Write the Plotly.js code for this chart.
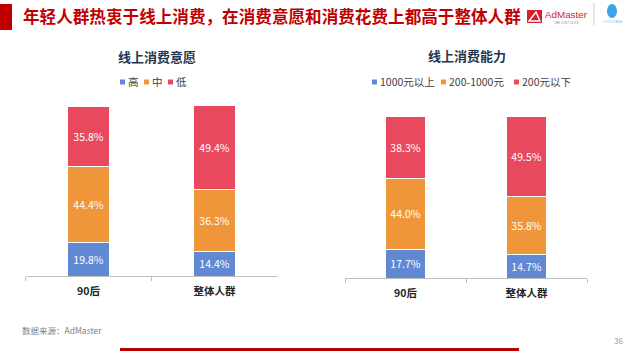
<!DOCTYPE html>
<html>
<head>
<meta charset="utf-8">
<script src="https://cdn.plot.ly/plotly-3.0.1.min.js"></script>
<style>html,body{margin:0;padding:0;background:#fff;}#chart{width:631px;height:357px;}</style>
</head>
<body>
<div id="chart"></div>
<script>
// ---- data ----
const categories = ['90后', '整体人群'];
const willingNames = ['高', '中', '低'];
const willingHigh = [19.8, 14.4];
const willingMid = [44.4, 36.3];
const willingLow = [35.8, 49.4];
const abilityNames = ['1000元以上', '200-1000元', '200元以下'];
const ability1000Plus = [17.7, 14.7];
const ability200to1000 = [44.0, 35.8];
const abilityUnder200 = [38.3, 49.5];
const seriesColors = ['#6189D3', '#F0963A', '#E8495E'];
const mainTitle = '年轻人群热衷于线上消费，在消费意愿和消费花费上都高于整体人群';
const leftTitle = '线上消费意愿';
const rightTitle = '线上消费能力';
const sourceText = '数据来源：AdMaster';
const pageNum = '36';

const W = 631, H = 357;
const px = x => x / W;
const py = y => 1 - y / H;
const FONT = 'Noto Sans CJK SC, Noto Sans, sans-serif';

function mkBar(vals, name, color, xa, ya) {
  return {
    type: 'bar', x: categories, y: vals, name: name, xaxis: xa, yaxis: ya,
    width: 0.33,
    marker: {color: color, line: {color: '#ffffff', width: 1}},
    texttemplate: '%{y:.1f}%', textposition: 'inside', insidetextanchor: 'middle',
    textangle: 0, constraintext: 'none',
    textfont: {family: FONT, size: 10.5, color: '#ffffff'},
    hoverinfo: 'skip', showlegend: false
  };
}

const leftSeries = [willingHigh, willingMid, willingLow];
const rightSeries = [ability1000Plus, ability200to1000, abilityUnder200];
const data = [];
leftSeries.forEach((v, i) => data.push(mkBar(v, willingNames[i], seriesColors[i], 'x', 'y')));
rightSeries.forEach((v, i) => data.push(mkBar(v, abilityNames[i], seriesColors[i], 'x2', 'y2')));

const xaxisBase = {
  type: 'category', range: [-0.5, 1.5], showgrid: false, zeroline: false,
  showline: true, linecolor: '#BFBFBF', linewidth: 1,
  ticks: 'outside', tickson: 'boundaries', ticklen: 4, tickcolor: '#BFBFBF',
  tickfont: {family: FONT, size: 10.5, color: '#262626', weight: 'bold'},
  ticklabelstandoff: 5, fixedrange: true
};
const yaxisBase = {range: [0, 100], visible: false, fixedrange: true};

const shapes = [
  // left red block by the title
  {type: 'rect', xref: 'paper', yref: 'paper', x0: px(0), x1: px(12), y0: py(30), y1: py(4), fillcolor: '#C00000', line: {width: 0}},
  // AdMaster logo mark
  {type: 'rect', xref: 'paper', yref: 'paper', x0: px(527), x1: px(542), y0: py(23), y1: py(10), fillcolor: '#D2202F', line: {width: 0}},
  {type: 'path', xref: 'paper', yref: 'paper', path: `M ${px(529)} ${py(21)} L ${px(536)} ${py(12)} L ${px(540)} ${py(21)} Z`, fillcolor: 'rgba(0,0,0,0)', line: {color: '#ffffff', width: 1.4}},
  // divider
  {type: 'line', xref: 'paper', yref: 'paper', x0: px(594), x1: px(594), y0: py(25), y1: py(3), line: {color: '#CCCCCC', width: 1}},
  // penguin icon
  {type: 'circle', xref: 'paper', yref: 'paper', x0: px(607), x1: px(617), y0: py(18), y1: py(4), fillcolor: '#3DA3E6', line: {width: 0}},
  // bottom red bar
  {type: 'rect', xref: 'paper', yref: 'paper', x0: px(120), x1: px(519), y0: py(351), y1: py(348), fillcolor: '#B50000', line: {width: 0}}
];

const annotations = [
  {text: mainTitle, xref: 'paper', yref: 'paper', x: px(21), y: py(16), xanchor: 'left', yanchor: 'middle', showarrow: false,
   font: {family: FONT, size: 16.6, color: '#C00000', weight: 'bold'}},
  {text: 'AdMaster', xref: 'paper', yref: 'paper', x: px(543), y: py(15), xanchor: 'left', yanchor: 'middle', showarrow: false,
   font: {family: 'Liberation Sans, sans-serif', size: 9.8, color: '#D2202F'}},
  {text: 'THE COST CLICK', xref: 'paper', yref: 'paper', x: px(552), y: py(22.5), xanchor: 'left', yanchor: 'middle', showarrow: false,
   font: {family: 'Liberation Sans, sans-serif', size: 3, color: '#888888'}},
  {text: 'COOLDATA', xref: 'paper', yref: 'paper', x: px(612), y: py(21.5), xanchor: 'center', yanchor: 'middle', showarrow: false,
   font: {family: 'Liberation Sans, sans-serif', size: 3.5, color: '#7FBFEA'}},
  {text: leftTitle, xref: 'paper', yref: 'paper', x: px(157), y: py(56), xanchor: 'center', yanchor: 'middle', showarrow: false,
   font: {family: FONT, size: 13, color: '#1F3550', weight: 'bold'}},
  {text: rightTitle, xref: 'paper', yref: 'paper', x: px(467), y: py(55), xanchor: 'center', yanchor: 'middle', showarrow: false,
   font: {family: FONT, size: 13, color: '#1F3550', weight: 'bold'}},
  {text: sourceText, xref: 'paper', yref: 'paper', x: px(20), y: py(330), xanchor: 'left', yanchor: 'middle', showarrow: false,
   font: {family: FONT, size: 8.5, color: '#7F7F7F'}},
  {text: pageNum, xref: 'paper', yref: 'paper', x: px(625), y: py(340), xanchor: 'right', yanchor: 'middle', showarrow: false,
   font: {family: FONT, size: 8, color: '#999999'}}
];

// legends (square + label)
function addLegend(names, squareXs) {
  names.forEach((n, i) => {
    const sx = squareXs[i];
    shapes.push({type: 'rect', xref: 'paper', yref: 'paper', x0: px(sx), x1: px(sx + 5), y0: py(84.5), y1: py(79.5), fillcolor: seriesColors[i], line: {width: 0}});
    annotations.push({text: n, xref: 'paper', yref: 'paper', x: px(sx + 6), y: py(82), xanchor: 'left', yanchor: 'middle', showarrow: false,
      font: {family: FONT, size: 10.5, color: '#404040'}});
  });
}
addLegend(willingNames, [120, 144, 168]);
addLegend(abilityNames, [372, 441, 514]);

const layout = {
  width: W, height: H, margin: {l: 0, r: 0, t: 0, b: 0},
  paper_bgcolor: '#ffffff', plot_bgcolor: 'rgba(0,0,0,0)',
  barmode: 'stack', showlegend: false,
  xaxis: Object.assign({}, xaxisBase, {domain: [px(25.5), px(277.5)], anchor: 'y'}),
  yaxis: Object.assign({}, yaxisBase, {domain: [py(276), py(106)], anchor: 'x'}),
  xaxis2: Object.assign({}, xaxisBase, {domain: [px(345), px(587)], anchor: 'y2'}),
  yaxis2: Object.assign({}, yaxisBase, {domain: [py(278), py(116)], anchor: 'x2'}),
  shapes: shapes, annotations: annotations
};

Plotly.newPlot('chart', data, layout, {staticPlot: true, displayModeBar: false});
</script>
</body>
</html>
